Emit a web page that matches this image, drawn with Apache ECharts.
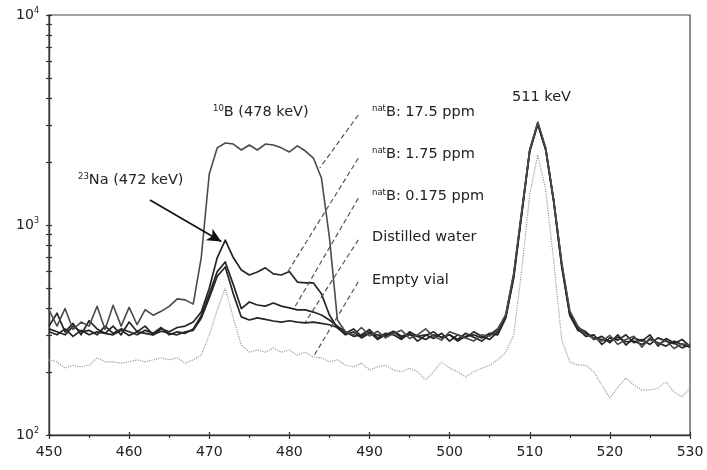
<!DOCTYPE html>
<html><head><meta charset="utf-8">
<script src="https://cdn.jsdelivr.net/npm/echarts@6/dist/echarts.min.js"></script>
<style>html,body{margin:0;padding:0;background:#fff}#c{width:707px;height:470px}</style>
</head><body><div id="c"></div>
<script>
// Energy (keV)
const energy = [450,451,452,453,454,455,456,457,458,459,460,461,462,463,464,465,466,467,468,469,
470,471,472,473,474,475,476,477,478,479,480,481,482,483,484,485,486,487,488,489,
490,491,492,493,494,495,496,497,498,499,500,501,502,503,504,505,506,507,508,509,
510,511,512,513,514,515,516,517,518,519,520,521,522,523,524,525,526,527,528,529,530];

// natB: 17.5 ppm
const boron175 = [394,330,400,318,345,330,410,318,415,330,405,335,395,372,388,410,445,440,420,
700,1750,2330,2457,2430,2276,2404,2276,2430,2404,2330,2227,2380,2250,2084,1674,870,353,
310,300,325,296,312,290,305,315,288,300,320,295,283,310,300,290,280,300,296,315,
375,590,1170,2290,3090,2320,1310,660,390,330,
300,290,280,298,270,285,295,262,290,270,282,258,272,268];
// natB: 1.75 ppm
const boron1_75 = [330,380,310,340,300,350,320,305,330,300,345,310,330,300,320,310,325,330,345,
385,500,700,848,700,611,578,597,625,585,578,600,535,530,530,470,373,323,
305,320,295,310,285,300,312,295,305,280,298,310,290,300,285,305,292,280,300,320,
370,580,1150,2270,3060,2300,1300,650,380,325,
310,285,295,275,300,268,290,280,300,265,288,275,260,270];
// natB: 0.175 ppm
const boron0_175 = [320,310,300,330,310,315,300,330,305,320,310,300,315,305,325,300,310,305,320,
370,470,600,667,520,400,430,416,411,425,411,403,394,394,385,373,353,330,
310,295,300,318,290,305,300,285,310,295,300,288,305,280,300,290,310,295,285,310,
365,570,1140,2260,3040,2290,1290,640,375,320,
295,300,270,290,283,300,275,285,270,290,280,272,285,265];
// Distilled water
const water = [310,300,320,295,315,300,310,305,300,315,298,310,305,300,312,305,300,310,315,
360,450,570,631,470,365,353,361,355,349,345,350,345,342,345,340,335,325,
300,310,290,305,300,295,310,290,300,295,285,300,292,300,280,295,300,290,305,300,
360,560,1130,2240,3020,2270,1280,630,370,315,
305,290,285,280,292,278,280,270,285,275,265,280,270,262];
// Empty vial
const emptyVial = [228,223,208,215,211,215,233,223,223,220,223,228,223,228,233,228,233,220,228,
240,299,394,501,361,268,248,254,248,260,248,254,240,248,235,233,223,228,
215,211,220,204,211,215,204,200,208,200,183,200,223,208,200,189,200,208,215,228,
248,299,611,1400,2154,1468,667,283,223,215,
215,200,173,150,169,187,173,164,164,167,179,160,152,167];

const xTicks = [450,460,470,480,490,500,510,520,530];
const yLabelValues = [100,1000,10000];
const yTickValues = [100,200,300,400,500,600,700,800,900,1000,2000,3000,4000,5000,6000,7000,8000,9000,10000];

const seriesNames = ['Empty vial','Distilled water','natB: 0.175 ppm','natB: 1.75 ppm','natB: 17.5 ppm'];
const seriesValues = [emptyVial, water, boron0_175, boron1_75, boron175];

const chart = echarts.init(document.getElementById('c'), null, {renderer:'canvas'});
const FONT = '"DejaVu Sans", "Liberation Sans", sans-serif';
const TXT = '#222';

function pairs(vals){ return energy.map((e,i)=>[e, vals[i]]); }

const series = seriesValues.map((vals, k) => {
  const isVial = k === 0;
  return {
    name: seriesNames[k], type: 'line', data: pairs(vals), showSymbol: false,
    symbol: 'none', silent: true, z: isVial ? 2 : 3,
    lineStyle: isVial ? {color:'#9a9a9a', width:1.2, type:'dotted'}
                      : {color: k === 4 ? '#4a4a4a' : '#262626', width: k === 4 ? 1.6 : 1.7, join:'round'}
  };
});

// annotation lines (dashed leaders + arrow), in data coordinates
series.push({
  type:'line', data:[], silent:true,
  markLine:{
    silent:true, symbol:['none','none'], animation:false,
    label:{show:false},
    lineStyle:{color:'#555', type:[5,3], width:1.2},
    data:[
      [{coord:[488.6,3340]},{coord:[483.8,1870]}],
      [{coord:[488.6,2080]},{coord:[479.7,590]}],
      [{coord:[488.6,1340]},{coord:[480.7,408]}],
      [{coord:[488.6,850]},{coord:[482.0,345]}],
      [{coord:[488.6,536]},{coord:[483.0,236]}]
    ]
  }
});
series.push({
  type:'line', data:[], silent:true,
  markLine:{
    silent:true, symbol:['none','arrow'], symbolSize:[10,14], animation:false,
    label:{show:false},
    lineStyle:{color:'#111', type:'solid', width:1.6},
    data:[[{coord:[462.6,1315]},{coord:[471.5,835]}]]
  }
});

const supRich = {
  n:{fontFamily:FONT, fontSize:14.5, color:TXT},
  s:{fontFamily:FONT, fontSize:8.5, color:TXT, verticalAlign:'top', padding:[0,0,7,0]}
};
function label(x, y, text){
  return {type:'text', left:x, top:y, silent:true,
    style:{text:text, rich:supRich, fontFamily:FONT, fontSize:14.5, fill:TXT}};
}

chart.setOption({
  animation:false,
  backgroundColor:'#fff',
  grid:{left:49, right:17, top:15, bottom:35, show:true, borderColor:'#444', borderWidth:1.2},
  xAxis:[{
    type:'value', min:450, max:530, interval:10,
    axisLine:{lineStyle:{color:'#333', width:1.4}},
    axisTick:{show:true, length:4, lineStyle:{color:'#333', width:1.2}},
    minorTick:{show:true, splitNumber:2, length:3, lineStyle:{color:'#333', width:1.2}},
    splitLine:{show:false},
    axisLabel:{color:TXT, fontFamily:FONT, fontSize:14, margin:10, customValues:xTicks}
  },{
    type:'value', min:450, max:530, interval:10, position:'bottom',
    axisLine:{show:false},
    axisTick:{show:true, inside:true, length:3, lineStyle:{color:'#333', width:1.2}},
    minorTick:{show:false},
    splitLine:{show:false}, axisLabel:{show:false}
  }],
  yAxis:[{
    type:'log', logBase:10, min:100, max:10000,
    axisLine:{show:true, lineStyle:{color:'#333', width:1.4}},
    axisTick:{show:true, length:3, customValues:yTickValues, lineStyle:{color:'#333', width:1.2}},
    splitLine:{show:false},
    axisLabel:{
      customValues:yLabelValues, margin:10,
      formatter:(v)=>'{b|10}{e|'+Math.round(Math.log10(v))+'}',
      rich:{b:{fontFamily:FONT, fontSize:14, color:TXT},
            e:{fontFamily:FONT, fontSize:8, color:TXT, verticalAlign:'top', padding:[0,0,8,0]}}
    }
  },{
    type:'log', logBase:10, min:100, max:10000, position:'left',
    axisLine:{show:false},
    axisTick:{show:true, inside:true, length:3, customValues:yTickValues, lineStyle:{color:'#333', width:1.2}},
    splitLine:{show:false}, axisLabel:{show:false}
  }],
  series: series,
  graphic:[
    label(78, 172, '{s|23}{n|Na (472 keV)}'),
    label(213, 104, '{s|10}{n|B (478 keV)}'),
    label(372, 104, '{s|nat}{n|B: 17.5 ppm}'),
    label(372, 146, '{s|nat}{n|B: 1.75 ppm}'),
    label(372, 188, '{s|nat}{n|B: 0.175 ppm}'),
    label(372, 230, '{n|Distilled water}'),
    label(372, 273, '{n|Empty vial}'),
    label(512, 90, '{n|511 keV}')
  ]
});
</script></body></html>
